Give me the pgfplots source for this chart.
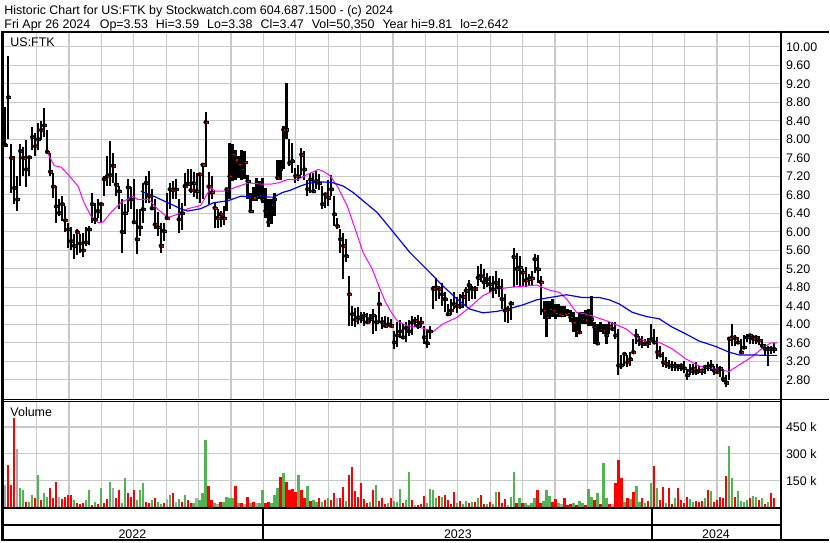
\documentclass[border=0pt]{standalone}
\usepackage{pgfplots}
\pgfplotsset{compat=1.18}
\usepackage{pgfplotstable}
\usepackage{fontspec}
\setmainfont{Liberation Sans}
\definecolor{gridgray}{RGB}{200,200,200}
\definecolor{volred}{RGB}{255,0,0}
\definecolor{volgreen}{RGB}{80,180,80}
\definecolor{volgray}{RGB}{170,170,170}
\definecolor{mapink}{RGB}{255,0,255}
\definecolor{mablue}{RGB}{0,0,255}
\newcommand{\hdr}{\fontsize{12.5}{15}\selectfont}

\pgfplotstableread{
x h l c v vc
4 8.71 7.85 7.88 125 3
7 9.81 8.00 8.91 240 1
10 7.90 6.85 7.60 125 1
13 7.65 6.60 6.95 502 1
16 7.20 6.45 6.70 329 3
19 7.90 7.00 7.75 106 2
22 7.84 7.20 7.60 97 2
25 7.99 6.96 7.35 32 1
28 7.64 7.20 7.61 32 2
31 8.27 7.78 8.05 69 2
34 8.13 7.64 7.85 50 1
37 8.35 7.78 8.00 184 2
40 8.40 7.99 8.20 40 1
43 8.68 8.05 8.30 78 2
46 8.20 7.71 7.73 60 2
49 7.71 7.20 7.30 106 1
52 7.28 6.74 6.98 50 1
55 7.00 6.20 6.55 143 1
58 6.71 6.34 6.41 60 3
61 6.77 6.24 6.60 45 1
64 6.56 6.00 6.25 60 1
67 6.20 5.65 6.05 69 1
70 6.10 5.60 5.80 69 1
73 5.95 5.41 5.70 40 2
76 6.06 5.50 6.00 25 1
79 5.95 5.55 5.75 20 1
82 5.98 5.45 5.60 22 1
85 6.10 5.70 5.77 40 2
88 6.13 5.72 6.05 97 2
91 6.85 6.20 6.60 15 1
94 6.63 6.16 6.27 30 2
97 6.70 6.30 6.45 20 1
100 6.62 6.20 6.60 106 2
103 7.21 6.78 7.14 25 1
106 7.64 6.99 7.20 45 1
109 7.97 6.99 7.23 143 2
112 7.71 7.06 7.43 106 3
115 7.28 6.78 7.02 50 1
118 6.99 6.49 6.88 97 1
121 6.70 5.55 6.00 25 2
124 6.60 5.95 6.40 167 2
127 7.14 6.42 6.96 78 1
130 6.96 6.49 6.70 60 1
133 7.14 6.20 6.21 97 1
136 6.49 5.52 5.84 40 2
139 6.49 5.91 6.10 97 2
142 7.06 6.20 6.49 134 2
145 7.21 6.63 7.06 32 1
148 7.32 6.63 6.78 25 1
151 6.92 6.49 6.51 40 2
154 6.70 6.06 6.16 50 1
157 6.42 5.91 6.10 30 2
160 6.20 5.55 5.70 20 2
163 6.20 5.80 6.02 25 1
166 6.85 6.28 6.30 45 3
169 7.06 6.49 6.92 69 2
172 7.10 6.70 6.90 78 1
175 7.14 6.70 6.92 30 3
178 6.70 5.98 6.27 45 2
181 6.63 6.05 6.40 32 1
184 7.28 6.56 6.99 69 2
187 7.35 6.99 7.04 40 1
190 7.35 6.85 6.90 22 1
193 7.30 6.75 7.05 25 2
196 7.28 6.70 6.88 50 3
199 7.27 6.63 7.24 40 2
202 7.49 6.70 7.45 78 2
205 8.60 7.40 8.37 378 2
208 7.30 6.60 6.98 119 1
211 7.20 6.70 6.85 40 1
214 6.63 6.09 6.52 25 2
217 6.49 6.09 6.30 20 3
220 6.45 6.10 6.38 32 1
223 6.55 6.15 6.30 32 2
226 6.92 6.45 6.92 60 2
229 7.92 6.70 7.20 50 2
232 7.90 7.10 7.68 50 2
235 7.78 7.13 7.56 119 1
238 7.64 7.17 7.46 25 2
241 7.78 7.13 7.35 22 1
244 7.75 7.15 7.50 20 3
247 7.24 6.70 7.10 60 1
250 6.85 6.45 6.45 22 2
253 6.96 6.67 6.74 32 1
256 7.17 6.67 6.77 22 3
259 7.10 6.70 6.80 25 2
262 7.17 6.63 6.70 97 2
265 6.95 6.30 6.45 22 1
268 6.70 6.11 6.21 32 1
271 6.70 6.16 6.58 22 2
274 6.85 6.35 6.70 72 2
277 7.56 7.13 7.17 106 2
280 7.56 7.13 7.35 171 1
283 8.28 7.35 8.21 190 2
286 9.22 8.00 8.21 143 1
289 8.00 7.42 7.49 97 1
292 7.92 7.28 7.53 102 1
295 7.38 7.06 7.21 84 1
298 7.45 7.10 7.20 180 2
301 7.82 7.24 7.67 95 1
304 7.74 7.13 7.35 50 1
307 7.13 6.77 6.92 119 2
310 7.28 6.85 7.13 35 1
313 7.28 6.85 6.88 40 2
316 7.31 6.92 7.10 32 2
319 7.25 6.90 7.05 50 1
322 6.99 6.49 6.60 30 2
325 6.85 6.52 6.81 40 1
328 7.13 6.56 6.74 50 2
331 7.24 6.77 6.92 40 1
334 6.77 6.13 6.38 78 1
337 6.31 6.06 6.13 50 3
340 6.06 5.55 5.84 55 1
343 5.98 4.98 5.70 112 1
346 5.84 5.34 5.48 35 2
349 5.05 3.97 4.65 184 1
352 4.40 3.97 4.22 227 1
355 4.35 3.95 4.10 91 1
358 4.37 4.01 4.15 60 1
361 4.26 4.04 4.12 134 1
364 4.26 3.97 4.19 45 1
367 4.25 4.00 4.05 22 1
370 4.22 4.04 4.12 30 2
373 4.33 3.79 4.19 95 1
376 4.20 3.85 4.05 128 2
379 4.69 4.04 4.44 35 1
382 4.15 3.90 4.05 50 1
385 4.19 3.97 3.97 20 1
388 4.15 3.95 4.00 25 2
391 4.12 3.97 3.97 50 1
394 3.85 3.47 3.61 35 2
397 4.05 3.52 3.76 30 2
400 4.10 3.70 3.85 102 2
403 4.01 3.72 3.72 22 1
406 4.05 3.61 3.92 40 2
409 4.10 3.75 3.85 199 2
412 4.19 3.76 4.04 40 1
415 4.15 3.94 4.08 15 3
418 4.20 3.90 3.97 15 1
421 4.15 3.94 4.04 20 1
424 3.97 3.58 3.72 63 1
427 3.90 3.50 3.60 25 2
430 3.97 3.69 3.85 102 2
433 4.84 4.33 4.77 97 2
436 5.00 4.50 4.80 50 2
439 4.84 4.55 4.77 63 1
442 4.90 4.40 4.65 60 2
445 4.69 4.26 4.55 70 1
448 4.44 4.19 4.22 40 1
451 4.55 4.20 4.30 20 1
454 4.69 4.33 4.44 87 1
457 4.60 4.25 4.40 25 2
460 4.65 4.33 4.40 35 1
463 4.70 4.35 4.60 20 2
466 4.80 4.40 4.73 35 2
469 4.95 4.50 4.85 25 1
472 4.84 4.55 4.77 30 2
475 4.84 4.55 4.77 30 1
478 5.27 4.83 5.01 50 2
481 5.30 4.91 5.05 70 1
484 5.20 4.76 4.91 20 1
487 5.10 4.80 4.98 20 2
490 5.05 4.69 4.87 30 1
493 5.05 4.57 4.76 20 2
496 5.15 4.65 4.90 84 2
499 5.00 4.60 4.80 87 1
502 4.98 4.33 4.55 25 1
505 4.65 4.05 4.30 45 1
508 4.40 4.04 4.33 15 3
511 4.50 4.10 4.45 60 2
514 5.66 4.80 5.46 199 2
517 5.55 4.85 5.20 25 1
520 5.48 4.83 5.23 50 2
523 5.20 4.83 5.12 25 1
526 5.25 4.80 4.95 25 2
529 5.09 4.84 4.98 15 2
532 5.15 4.85 5.00 25 2
535 5.52 5.12 5.41 50 2
538 5.50 4.90 5.20 95 1
541 5.05 4.20 4.92 25 1
544 4.51 4.12 4.30 35 2
547 4.51 3.72 4.15 100 2
550 4.51 4.12 4.33 65 2
553 4.55 4.15 4.30 32 1
556 4.45 4.12 4.25 45 1
559 4.44 4.15 4.22 22 2
562 4.40 4.15 4.20 20 3
565 4.40 4.15 4.22 50 1
568 4.33 4.19 4.25 15 1
571 4.30 4.05 4.15 20 1
574 4.26 3.83 4.05 22 2
577 4.15 3.72 3.86 15 1
580 4.26 3.83 3.83 35 2
583 4.26 4.01 4.12 25 2
586 4.30 4.01 4.10 15 1
589 4.33 3.97 4.26 102 2
592 4.62 3.97 4.12 60 2
595 4.05 3.58 3.94 40 1
598 4.00 3.58 3.59 78 2
601 4.05 3.83 3.90 20 1
604 4.00 3.80 3.88 251 2
607 4.01 3.58 3.76 50 2
610 4.05 3.80 3.95 20 1
613 4.05 3.85 3.90 20 3
616 4.05 3.69 3.76 134 1
619 3.90 2.90 3.11 264 1
622 3.33 3.04 3.11 165 1
625 3.36 3.11 3.36 30 2
628 3.33 3.08 3.18 50 1
631 3.40 3.10 3.25 45 2
634 3.69 3.36 3.40 84 1
637 3.90 3.58 3.76 121 2
640 3.75 3.54 3.65 30 2
643 3.75 3.50 3.58 50 1
646 3.69 3.54 3.58 25 2
649 3.70 3.50 3.60 35 1
652 4.01 3.61 3.68 138 2
655 3.90 3.58 3.61 230 1
658 3.72 3.25 3.40 110 2
661 3.54 3.33 3.33 40 1
664 3.40 3.08 3.18 112 1
667 3.30 3.05 3.15 25 2
670 3.22 3.04 3.11 106 1
673 3.20 3.00 3.10 20 1
676 3.18 3.00 3.11 50 2
679 3.15 3.00 3.08 106 1
682 3.15 3.00 3.11 40 1
685 3.20 2.95 3.05 25 1
688 3.04 2.79 2.90 60 1
691 3.15 2.90 3.00 45 2
694 3.15 2.90 3.04 30 2
697 3.18 2.90 2.97 35 1
700 3.10 2.95 3.00 30 1
703 3.04 2.90 3.00 35 1
706 3.12 2.92 3.08 50 2
709 3.18 3.00 3.08 97 1
712 3.22 3.00 3.11 90 2
715 3.11 2.90 3.00 30 1
718 3.15 2.93 2.97 40 1
721 3.11 2.86 3.04 60 1
724 3.04 2.75 2.82 50 1
727 2.90 2.64 2.74 177 1
730 3.72 2.79 3.69 344 2
733 4.01 3.54 3.72 165 2
736 3.76 3.54 3.70 60 1
739 3.72 3.58 3.61 90 2
742 3.69 3.36 3.40 35 2
745 3.76 3.47 3.50 30 2
748 3.79 3.61 3.72 40 2
751 3.79 3.58 3.76 50 1
754 3.76 3.58 3.69 65 2
757 3.76 3.58 3.72 60 2
760 3.75 3.55 3.65 40 1
763 3.69 3.47 3.54 50 2
766 3.58 3.33 3.47 20 1
769 3.54 3.11 3.47 30 2
772 3.54 3.36 3.47 78 1
775 3.59 3.38 3.47 50 1
}\data

\pgfplotsset{
  panel/.style={
    anchor=south west, scale only axis, width=779.3pt,
    xmin=2.7, xmax=782,
    axis line style={draw=none}, major tick length=0pt,
    xtick={35.5,68,100.5,133,165.5,198,230.5,263,295.5,328,360.5,393,425.5,458,490.5,523,555.5,588,620.5,653,685.5,718,750.5},
    xticklabel=\empty,
    yticklabel pos=right,
    yticklabel style={anchor=west, inner sep=0pt, xshift=5pt, font=\hdr, text=black},
    grid=major, major grid style={gridgray, line width=1.2pt},
  }
}

\begin{document}
\begin{tikzpicture}[x=1pt,y=1pt]
\fill[white] (0,0) rectangle (830,543);

% price panel
\begin{axis}[panel, at={(2.7pt,143pt)}, height=366.7pt,
  ymin=2.392, ymax=10.295,
  ytick={2.8,3.2,3.6,4.0,4.4,4.8,5.2,5.6,6.0,6.4,6.8,7.2,7.6,8.0,8.4,8.8,9.2,9.6,10.0},
  yticklabels={2.80,3.20,3.60,4.00,4.40,4.80,5.20,5.60,6.00,6.40,6.80,7.20,7.60,8.00,8.40,8.80,9.20,9.60,10.00}]
\addplot[only marks, mark=none,
  error bars/.cd, y dir=both, y explicit, error mark=none,
  error mark options={draw=none, fill=none},
  error bar style={draw=black, line width=2.2pt}]
  table[x=x, y=c, y error plus expr=\thisrow{h}-\thisrow{c}, y error minus expr=\thisrow{c}-\thisrow{l}] {\data};
\addplot[only marks, mark=square*, mark size=1.1pt, mark options={draw=none, fill=red}]
  table[x expr=\thisrow{x}+1.1, y=c] {\data};
\addplot[mapink, line width=1pt] coordinates {
(46,7.73) (53,7.43) (60,7.40) (67,7.24) (77,6.99) (83,6.63) (90,6.34) (97,6.20) (102,6.21) (110,6.42) (120,6.63) (132,6.77) (137,6.70) (148,6.70) (157,6.49) (167,6.31) (177,6.38) (187,6.50) (200,6.57) (210,6.95) (215,6.88) (227,6.88) (233,6.95) (248,7.06) (262,7.03) (270,7.03) (278,7.06) (287,7.13) (297,7.13) (307,7.24) (318,7.35) (323,7.31) (330,7.21) (338,6.95) (347,6.56) (355,6.06) (363,5.55) (372,5.20) (380,4.76) (385,4.50) (390,4.30) (397,4.08) (407,3.97) (423,3.92) (433,3.84) (443,4.01) (457,4.15) (470,4.37) (483,4.62) (497,4.76) (510,4.80) (537,4.85) (550,4.74) (560,4.69) (567,4.55) (577,4.26) (587,4.22) (597,4.15) (607,4.08) (615,4.01) (627,3.90) (637,3.72) (647,3.63) (660,3.61) (673,3.47) (687,3.25) (700,3.10) (717,3.04) (730,2.98) (740,3.12) (753,3.30) (765,3.51) (772,3.60) (778,3.60)};
\addplot[mablue, line width=1.2pt] coordinates {
(140,6.88) (153,6.77) (167,6.63) (180,6.50) (187,6.45) (200,6.50) (213,6.63) (227,6.67) (240,6.77) (252,6.76) (273,6.75) (282,6.85) (290,6.90) (300,6.99) (308,7.05) (323,7.08) (333,7.06) (343,6.99) (353,6.85) (363,6.67) (377,6.42) (390,6.08) (410,5.55) (430,5.12) (443,4.83) (457,4.55) (470,4.33) (483,4.25) (497,4.28) (510,4.34) (523,4.42) (537,4.53) (550,4.58) (567,4.64) (583,4.58) (600,4.58) (610,4.53) (620,4.44) (633,4.26) (647,4.17) (660,4.12) (673,3.94) (687,3.79) (700,3.64) (717,3.52) (730,3.40) (740,3.34) (753,3.34) (767,3.33) (778,3.33)};
\end{axis}

% volume panel
\begin{axis}[panel, at={(2.7pt,34pt)}, height=106pt,
  ymin=0, ymax=591,
  ytick={150,300,450}, yticklabels={150 k,300 k,450 k}]
\addplot[ycomb, draw=volred, line width=2.4pt, restrict expr to domain={\thisrow{vc}}{0.5:1.5}] table[x=x, y=v] {\data};
\addplot[ycomb, draw=volgreen, line width=2.4pt, restrict expr to domain={\thisrow{vc}}{1.5:2.5}] table[x=x, y=v] {\data};
\addplot[ycomb, draw=volgray, line width=2.4pt, restrict expr to domain={\thisrow{vc}}{2.5:3.5}] table[x=x, y=v] {\data};
\end{axis}

% frame lines
\draw[line width=2.6pt] (0,511) -- (830,511);
\draw[line width=1.2pt] (2.7,142.6) -- (830,142.6);
\draw[line width=1pt] (2.7,140.4) -- (782,140.4);
\draw[line width=2pt] (0,33) -- (782,33);
\draw[line width=2pt] (0,16.3) -- (782,16.3);
\draw[line width=2.6pt] (0,1.3) -- (830,1.3);
\draw[line width=2pt] (263,33) -- (263,0);
\draw[line width=2pt] (653,33) -- (653,0);
\draw[line width=2.7pt] (1.35,512) -- (1.35,0);
\draw[line width=2.5pt] (782,512) -- (782,0);

% texts
\node[anchor=base west, inner sep=0pt, font=\hdr] at (3,528.4) {Historic Chart for US:FTK by Stockwatch.com 604.687.1500 - (c) 2024};
\node[anchor=base west, inner sep=0pt, font=\hdr] at (3,514.6) {Fri Apr 26 2024\hspace{9.5pt}Op=3.53\hspace{8pt}Hi=3.59\hspace{8pt}Lo=3.38\hspace{8pt}Cl=3.47\hspace{8pt}Vol=50,350\hspace{8pt}Year hi=9.81\hspace{8pt}lo=2.642};
\node[anchor=base west, inner sep=0pt, font=\hdr] at (9,496) {US:FTK};
\node[anchor=base west, inner sep=0pt, font=\hdr] at (9,125) {Volume};
\node[anchor=base, inner sep=0pt, font=\hdr] at (131.5,3.3) {2022};
\node[anchor=base, inner sep=0pt, font=\hdr] at (458,3.3) {2023};
\node[anchor=base, inner sep=0pt, font=\hdr] at (717,3.3) {2024};
\end{tikzpicture}
\end{document}
